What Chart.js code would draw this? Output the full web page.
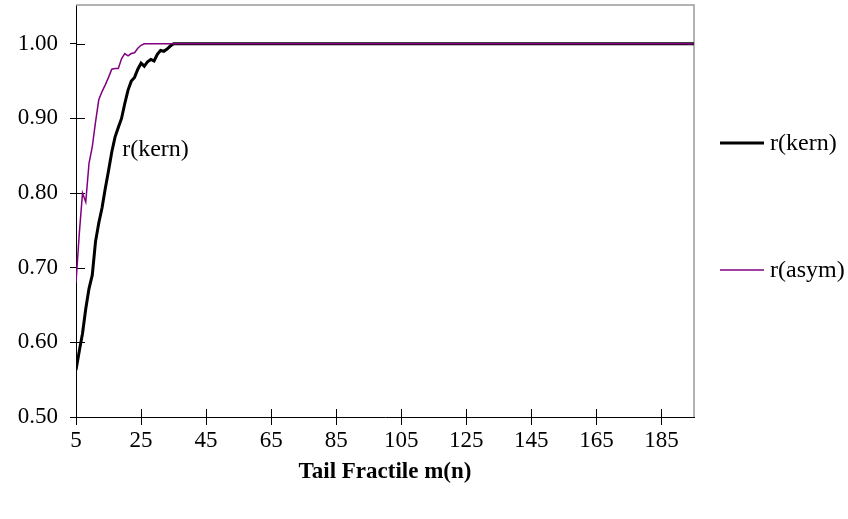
<!DOCTYPE html>
<html>
<head>
<meta charset="utf-8">
<script src="https://cdn.jsdelivr.net/npm/chart.js@4/dist/chart.umd.min.js"></script>
<style>
  html, body { margin: 0; padding: 0; background: #fff; }
  #wrap { width: 848px; height: 519px; }
</style>
</head>
<body>
<div id="wrap"><canvas id="c" width="848" height="519"></canvas></div>
<script>
// Tail fractile m(n) = 5 ... 195
const tailFractiles = [];
for (let m = 5; m <= 195; m++) tailFractiles.push(m);

// r(kern), m = 5 ... 195
const rKern = [
  0.563, 0.588, 0.612, 0.645, 0.672, 0.690, 0.735, 0.760, 0.780, 0.806,
  0.830, 0.855, 0.875, 0.888, 0.900, 0.920, 0.938, 0.950, 0.955, 0.966,
  0.974, 0.970, 0.976, 0.979, 0.977, 0.986, 0.991, 0.990, 0.993, 0.997,
  1.00,
  1.00, 1.00, 1.00, 1.00, 1.00, 1.00, 1.00, 1.00, 1.00, 1.00,
  1.00, 1.00, 1.00, 1.00, 1.00, 1.00, 1.00, 1.00, 1.00, 1.00,
  1.00, 1.00, 1.00, 1.00, 1.00, 1.00, 1.00, 1.00, 1.00, 1.00,
  1.00, 1.00, 1.00, 1.00, 1.00, 1.00, 1.00, 1.00, 1.00, 1.00,
  1.00, 1.00, 1.00, 1.00, 1.00, 1.00, 1.00, 1.00, 1.00, 1.00,
  1.00, 1.00, 1.00, 1.00, 1.00, 1.00, 1.00, 1.00, 1.00, 1.00,
  1.00, 1.00, 1.00, 1.00, 1.00, 1.00, 1.00, 1.00, 1.00, 1.00,
  1.00, 1.00, 1.00, 1.00, 1.00, 1.00, 1.00, 1.00, 1.00, 1.00,
  1.00, 1.00, 1.00, 1.00, 1.00, 1.00, 1.00, 1.00, 1.00, 1.00,
  1.00, 1.00, 1.00, 1.00, 1.00, 1.00, 1.00, 1.00, 1.00, 1.00,
  1.00, 1.00, 1.00, 1.00, 1.00, 1.00, 1.00, 1.00, 1.00, 1.00,
  1.00, 1.00, 1.00, 1.00, 1.00, 1.00, 1.00, 1.00, 1.00, 1.00,
  1.00, 1.00, 1.00, 1.00, 1.00, 1.00, 1.00, 1.00, 1.00, 1.00,
  1.00, 1.00, 1.00, 1.00, 1.00, 1.00, 1.00, 1.00, 1.00, 1.00,
  1.00, 1.00, 1.00, 1.00, 1.00, 1.00, 1.00, 1.00, 1.00, 1.00,
  1.00, 1.00, 1.00, 1.00, 1.00, 1.00, 1.00, 1.00, 1.00, 1.00
];

// r(asym), m = 5 ... 195
const rAsym = [
  0.680, 0.745, 0.800, 0.788, 0.840, 0.862, 0.895, 0.925, 0.936, 0.945,
  0.955, 0.966, 0.967, 0.967, 0.980, 0.987, 0.984, 0.987, 0.988, 0.994,
  0.998,
  1.00, 1.00, 1.00, 1.00, 1.00, 1.00, 1.00, 1.00, 1.00, 1.00,
  1.00, 1.00, 1.00, 1.00, 1.00, 1.00, 1.00, 1.00, 1.00, 1.00,
  1.00, 1.00, 1.00, 1.00, 1.00, 1.00, 1.00, 1.00, 1.00, 1.00,
  1.00, 1.00, 1.00, 1.00, 1.00, 1.00, 1.00, 1.00, 1.00, 1.00,
  1.00, 1.00, 1.00, 1.00, 1.00, 1.00, 1.00, 1.00, 1.00, 1.00,
  1.00, 1.00, 1.00, 1.00, 1.00, 1.00, 1.00, 1.00, 1.00, 1.00,
  1.00, 1.00, 1.00, 1.00, 1.00, 1.00, 1.00, 1.00, 1.00, 1.00,
  1.00, 1.00, 1.00, 1.00, 1.00, 1.00, 1.00, 1.00, 1.00, 1.00,
  1.00, 1.00, 1.00, 1.00, 1.00, 1.00, 1.00, 1.00, 1.00, 1.00,
  1.00, 1.00, 1.00, 1.00, 1.00, 1.00, 1.00, 1.00, 1.00, 1.00,
  1.00, 1.00, 1.00, 1.00, 1.00, 1.00, 1.00, 1.00, 1.00, 1.00,
  1.00, 1.00, 1.00, 1.00, 1.00, 1.00, 1.00, 1.00, 1.00, 1.00,
  1.00, 1.00, 1.00, 1.00, 1.00, 1.00, 1.00, 1.00, 1.00, 1.00,
  1.00, 1.00, 1.00, 1.00, 1.00, 1.00, 1.00, 1.00, 1.00, 1.00,
  1.00, 1.00, 1.00, 1.00, 1.00, 1.00, 1.00, 1.00, 1.00, 1.00,
  1.00, 1.00, 1.00, 1.00, 1.00, 1.00, 1.00, 1.00, 1.00, 1.00,
  1.00, 1.00, 1.00, 1.00, 1.00, 1.00, 1.00, 1.00, 1.00, 1.00
];

const xTickValues = [5, 25, 45, 65, 85, 105, 125, 145, 165, 185];
const yTickValues = [0.50, 0.60, 0.70, 0.80, 0.90, 1.00];
const seriesNames = ['r(kern)', 'r(asym)'];
const xTitle = 'Tail Fractile m(n)';

const FONT = '"Liberation Serif", "Times New Roman", serif';

function points(ys) {
  return tailFractiles.map((m, i) => ({ x: m, y: ys[i] }));
}

// Inner halves of the crossing tick marks, the grey frame, legend and in-plot label
const decorations = {
  id: 'decorations',
  beforeDatasetsDraw(chart) {
    const { ctx, chartArea: a, scales: { x, y } } = chart;
    ctx.save();
    ctx.strokeStyle = '#9a9a9a';
    ctx.lineWidth = 1.5;
    ctx.beginPath();
    ctx.moveTo(a.left, a.top);
    ctx.lineTo(a.right, a.top);
    ctx.lineTo(a.right, a.bottom);
    ctx.stroke();

    ctx.strokeStyle = '#000';
    ctx.lineWidth = 1;
    ctx.beginPath();
    x.ticks.forEach(t => {
      const px = Math.round(x.getPixelForValue(t.value)) + 0.5;
      ctx.moveTo(px, a.bottom);
      ctx.lineTo(px, a.bottom - 8);
    });
    y.ticks.forEach(t => {
      const py = Math.round(y.getPixelForValue(t.value)) + 0.5;
      ctx.moveTo(a.left, py);
      ctx.lineTo(a.left + 9, py);
    });
    ctx.stroke();
    ctx.restore();
  },
  afterDraw(chart) {
    const { ctx, scales: { x, y } } = chart;
    ctx.save();
    ctx.font = '24px ' + FONT;
    ctx.fillStyle = '#000';
    ctx.textBaseline = 'middle';
    ctx.textAlign = 'left';

    // legend on the right
    const rows = [143, 270];
    chart.data.datasets.forEach((ds, i) => {
      ctx.strokeStyle = ds.borderColor;
      ctx.lineWidth = ds.borderWidth;
      ctx.beginPath();
      ctx.moveTo(720, rows[i]);
      ctx.lineTo(764, rows[i]);
      ctx.stroke();
      ctx.fillText(ds.label, 770, rows[i] + 1);
    });

    // label beside the kernel curve
    ctx.fillText(seriesNames[0], x.getPixelForValue(19.2), y.getPixelForValue(0.858));
    ctx.restore();
  }
};

new Chart(document.getElementById('c'), {
  type: 'line',
  data: {
    datasets: [
      {
        label: seriesNames[0],
        data: points(rKern),
        borderColor: '#000000',
        borderWidth: 3,
        pointRadius: 0,
        tension: 0,
        order: 1
      },
      {
        label: seriesNames[1],
        data: points(rAsym),
        borderColor: '#800080',
        borderWidth: 1.5,
        pointRadius: 0,
        tension: 0,
        order: 0
      }
    ]
  },
  options: {
    responsive: false,
    devicePixelRatio: 1,
    animation: false,
    layout: { padding: { left: 0, right: 154, top: 5, bottom: 0 } },
    plugins: {
      legend: { display: false },
      tooltip: { enabled: false }
    },
    scales: {
      x: {
        type: 'linear',
        min: 5,
        max: 195,
        afterBuildTicks: s => { s.ticks = xTickValues.map(v => ({ value: v })); },
        afterFit: s => { s.height = 102; s.paddingLeft = 0; s.paddingRight = 0; },
        grid: { drawOnChartArea: false, drawTicks: true, tickLength: 8, color: '#000', lineWidth: 1 },
        border: { display: true, color: '#000', width: 1 },
        ticks: {
          color: '#000',
          padding: 2,
          maxRotation: 0,
          autoSkip: false,
          font: { family: FONT, size: 23 },
          callback: v => String(v)
        },
        title: {
          display: true,
          text: xTitle,
          color: '#000',
          font: { family: FONT, size: 23, weight: 'bold' },
          padding: { top: 0, bottom: 33 }
        }
      },
      y: {
        type: 'linear',
        min: 0.5,
        max: 1.052,
        afterBuildTicks: s => { s.ticks = yTickValues.map(v => ({ value: v })); },
        afterFit: s => { s.width = 76; s.paddingTop = 0; s.paddingBottom = 0; },
        grid: { drawOnChartArea: false, drawTicks: true, tickLength: 6, color: '#000', lineWidth: 1 },
        border: { display: true, color: '#000', width: 1 },
        ticks: {
          color: '#000',
          padding: 12,
          autoSkip: false,
          font: { family: FONT, size: 23 },
          callback: v => Number(v).toFixed(2)
        }
      }
    }
  },
  plugins: [decorations]
});
</script>
</body>
</html>
